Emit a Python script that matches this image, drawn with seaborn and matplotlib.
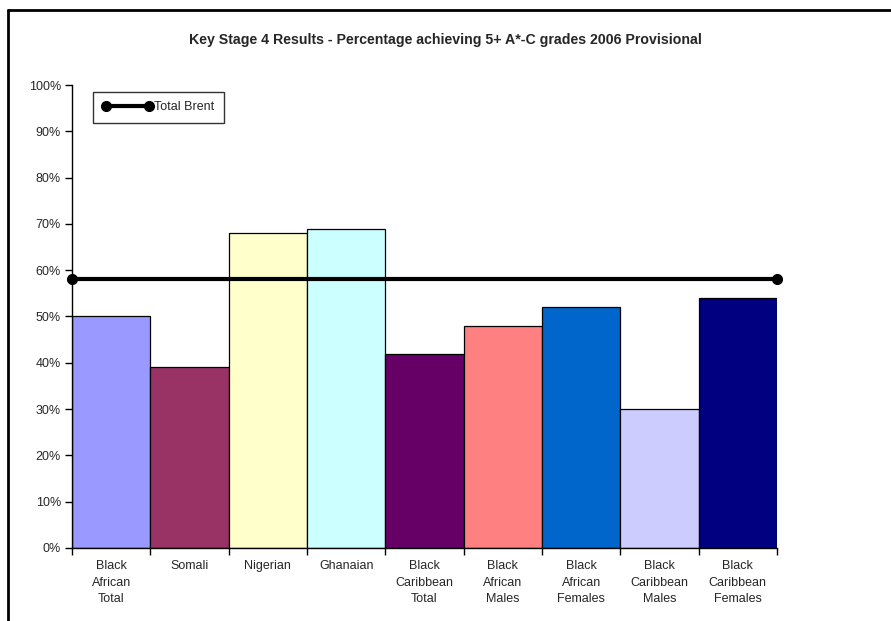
import matplotlib
matplotlib.use("Agg")
import matplotlib.pyplot as plt
from matplotlib.lines import Line2D
from matplotlib.ticker import FuncFormatter, MultipleLocator
import pandas as pd
import seaborn as sns

# Key Stage 4 results, 2006 provisional
categories = [
    "Black\nAfrican\nTotal", "Somali", "Nigerian", "Ghanaian",
    "Black\nCaribbean\nTotal", "Black\nAfrican\nMales", "Black\nAfrican\nFemales",
    "Black\nCaribbean\nMales", "Black\nCaribbean\nFemales",
]
pct_5ac = [50, 39, 68, 69, 42, 48, 52, 30, 54]
total_brent = 58
bar_colors = ["#9999FF", "#993366", "#FFFFCC", "#CCFFFF", "#660066",
              "#FF8080", "#0066CC", "#CCCCFF", "#000080"]

sns.set_theme(style="white")
plt.rcParams["font.family"] = ["Liberation Sans", "DejaVu Sans"]

df = pd.DataFrame({"group": categories, "pct": pct_5ac})

fig = plt.figure(figsize=(8.91, 6.21), dpi=100)
ax = fig.add_axes([0.0808, 0.1176, 0.7912, 0.7455])

sns.barplot(data=df, x="group", y="pct", hue="group", palette=bar_colors,
            dodge=False, width=1.0, edgecolor="black", linewidth=0.9,
            legend=False, saturation=1, ax=ax)

# Borough average drawn across the full width of the plot
x_lo, x_hi = -0.5, len(categories) - 0.5
line, = ax.plot([x_lo, x_hi], [total_brent, total_brent], color="black",
                lw=3, marker="o", markersize=7, clip_on=False, zorder=5,
                label="Total Brent")

ax.set_xlim(x_lo, x_hi)
ax.set_ylim(0, 100)
ax.yaxis.set_major_locator(MultipleLocator(10))
ax.yaxis.set_major_formatter(FuncFormatter(lambda v, p: f"{v:.0f}%"))
ax.set_xlabel("")
ax.set_ylabel("")

for s in ("top", "right"):
    ax.spines[s].set_visible(False)
for s in ("left", "bottom"):
    ax.spines[s].set_color("black")
    ax.spines[s].set_linewidth(1.0)

ax.tick_params(axis="y", direction="out", length=5, width=1, color="black",
               labelsize=9, pad=3, left=True)
ax.tick_params(axis="x", length=0, labelsize=9, pad=9)
for t in ax.get_xticklabels():
    t.set_linespacing(1.45)
    t.set_verticalalignment("top")

# Tick marks between categories on the x axis
ax.set_xticks([i + 0.5 for i in range(-1, len(categories))], minor=True)
ax.tick_params(axis="x", which="minor", direction="out", length=5, width=1,
               color="black", bottom=True)

leg = ax.legend(handles=[line], loc="upper left", bbox_to_anchor=(0.03, 0.985),
                borderaxespad=0, frameon=True, fancybox=False, fontsize=9,
                handlelength=4.0, handletextpad=0.15, borderpad=0.75,
                numpoints=2)
leg.get_frame().set_edgecolor("black")
leg.get_frame().set_linewidth(1.0)

fig.text(0.5, 0.935, "Key Stage 4 Results - Percentage achieving 5+ A*-C grades 2006 Provisional",
         ha="center", va="center", fontsize=10.2, fontweight="bold")

# Chart area frame
fig.add_artist(Line2D([0.009, 0.009], [0.0, 0.984], transform=fig.transFigure,
                      color="black", lw=2))
fig.add_artist(Line2D([0.009, 1.0], [0.984, 0.984], transform=fig.transFigure,
                      color="black", lw=2))

fig.savefig("out.png", dpi=100, facecolor="white")
